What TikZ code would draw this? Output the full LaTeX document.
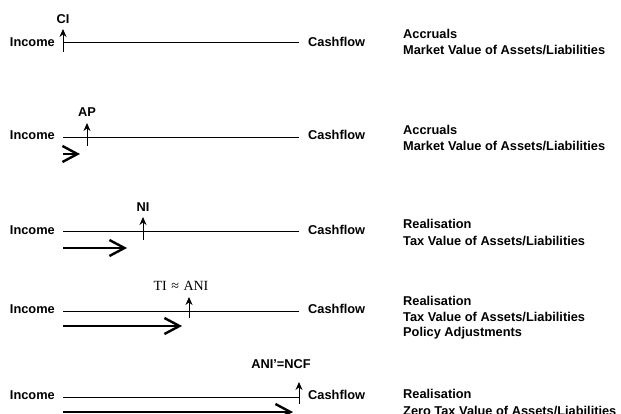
\documentclass[tikz,border=0pt]{standalone}
\usepackage{fontspec}
\setmainfont{Liberation Sans}
\newfontfamily\serifft{Liberation Serif}
\usetikzlibrary{arrows.meta}
\begin{document}
\begin{tikzpicture}[x=1pt,y=-1pt,
  lab/.style={font=\fontsize{12.8}{15}\selectfont\bfseries, inner sep=0pt},
  axis/.style={line width=1pt},
  tick/.style={line width=1pt, -{Stealth[length=8pt,width=7pt]}},
  flow/.style={line width=2.4pt, -{Straight Barb[length=15pt,width=16pt]}}]
\useasboundingbox (0,0) rectangle (621,414);
% row 1
\node[lab,anchor=base east] (inc1) at (55,46.7) {Income};
\node[lab,anchor=base west] (cf1) at (308,46.7) {Cashflow};
\coordinate (s1) at (63,43); \coordinate (e1) at (299,43);
\draw[axis] (s1) -- (e1);
\coordinate (t1b) at (63,52); \coordinate (t1t) at (63,29);
\draw[tick] (t1b) -- (t1t);
\node[lab,anchor=base] (ci) at (63,23.3) {CI};
\node[lab,anchor=base west] (r1a) at (403,38.3) {Accruals};
\node[lab,anchor=base west] (r1b) at (403,54.3) {Market Value of Assets/Liabilities};
% row 2
\node[lab,anchor=base east] (inc2) at (55,140) {Income};
\node[lab,anchor=base west] (cf2) at (308,140) {Cashflow};
\coordinate (s2) at (63,138); \coordinate (e2) at (299,138);
\draw[axis] (s2) -- (e2);
\coordinate (t2b) at (87,146); \coordinate (t2t) at (87,123);
\draw[tick] (t2b) -- (t2t);
\node[lab,anchor=base] (ap) at (87,116.7) {AP};
\coordinate (f2s) at (63,154); \coordinate (f2e) at (80,154);
\draw[flow] (f2s) -- (f2e);
\node[lab,anchor=base west] (r2a) at (403,134.3) {Accruals};
\node[lab,anchor=base west] (r2b) at (403,150.3) {Market Value of Assets/Liabilities};
% row 3
\node[lab,anchor=base east] (inc3) at (55,235) {Income};
\node[lab,anchor=base west] (cf3) at (308,235) {Cashflow};
\coordinate (s3) at (63,232); \coordinate (e3) at (299,232);
\draw[axis] (s3) -- (e3);
\coordinate (t3b) at (143,240); \coordinate (t3t) at (143,217);
\draw[tick] (t3b) -- (t3t);
\node[lab,anchor=base] (ni) at (143,211.7) {NI};
\coordinate (f3s) at (63,248); \coordinate (f3e) at (127,248);
\draw[flow] (f3s) -- (f3e);
\node[lab,anchor=base west] (r3a) at (403,228.5) {Realisation};
\node[lab,anchor=base west] (r3b) at (403,245.5) {Tax Value of Assets/Liabilities};
% row 4
\node[lab,anchor=base east] (inc4) at (55,313) {Income};
\node[lab,anchor=base west] (cf4) at (308,313) {Cashflow};
\coordinate (s4) at (63,311); \coordinate (e4) at (299,311);
\draw[axis] (s4) -- (e4);
\coordinate (t4b) at (189,318); \coordinate (t4t) at (189,297);
\draw[tick] (t4b) -- (t4t);
\node[inner sep=0pt,anchor=base,font=\serifft\fontsize{14}{16}\selectfont] (ti) at (181,290.7) {TI\hspace{4.5pt}≈\hspace{4.5pt}ANI};
\coordinate (f4s) at (63,326); \coordinate (f4e) at (182,326);
\draw[flow] (f4s) -- (f4e);
\node[lab,anchor=base west] (r4a) at (403,305.5) {Realisation};
\node[lab,anchor=base west] (r4b) at (403,321.5) {Tax Value of Assets/Liabilities};
\node[lab,anchor=base west] (r4c) at (403,336.5) {Policy Adjustments};
% row 5
\node[lab,anchor=base east] (inc5) at (55,399) {Income};
\node[lab,anchor=base west] (cf5) at (308,399) {Cashflow};
\coordinate (s5) at (63,397); \coordinate (e5) at (299,397);
\draw[axis] (s5) -- (e5);
\coordinate (t5b) at (299,404); \coordinate (t5t) at (299,382);
\draw[tick] (t5b) -- (t5t);
\node[lab,anchor=base] (anc) at (281,368.3) {ANI’=NCF};
\coordinate (f5s) at (63,412); \coordinate (f5e) at (293,412);
\draw[flow] (f5s) -- (f5e);
\node[lab,anchor=base west] (r5a) at (403,398.5) {Realisation};
\node[lab,anchor=base west] (r5b) at (403,415) {Zero Tax Value of Assets/Liabilities};
\end{tikzpicture}
\end{document}
